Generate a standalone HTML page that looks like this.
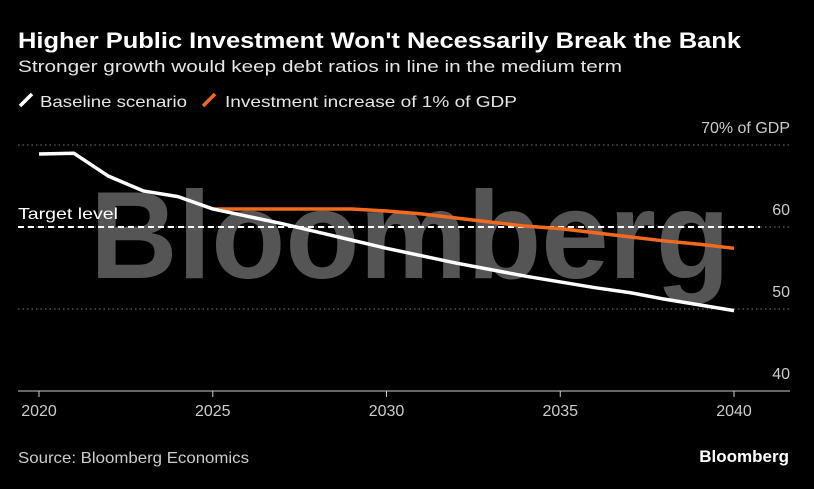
<!DOCTYPE html>
<html><head><meta charset="utf-8"><style>
body{margin:0;background:#000;width:814px;height:484px;overflow:hidden;font-family:"Liberation Sans",sans-serif;color:#fff}
</style></head><body>
<svg width="814" height="484">
<text x="18" y="48" font-size="22" font-weight="bold" fill="#fff" textLength="723" lengthAdjust="spacingAndGlyphs">Higher Public Investment Won't Necessarily Break the Bank</text>
<text x="18" y="72" font-size="17" fill="#e6e6e6" textLength="604" lengthAdjust="spacingAndGlyphs">Stronger growth would keep debt ratios in line in the medium term</text>
<g>
<line x1="20" y1="106" x2="32" y2="94" stroke="#fff" stroke-width="3.5"/>
<text x="40" y="107" font-size="16" fill="#e6e6e6" textLength="147" lengthAdjust="spacingAndGlyphs">Baseline scenario</text>
<line x1="203" y1="106" x2="215" y2="94" stroke="#f26b1d" stroke-width="3.5"/>
<text x="225" y="107" font-size="16" fill="#e6e6e6" textLength="292" lengthAdjust="spacingAndGlyphs">Investment increase of 1% of GDP</text>
</g>
<text x="410" y="278" font-size="124" font-weight="bold" fill="#555" text-anchor="middle" textLength="640" lengthAdjust="spacingAndGlyphs">Bloomberg</text>
<g id="grid"></g>
<g id="series"></g>
<text x="18" y="219" font-size="16" fill="#fff" textLength="100" lengthAdjust="spacingAndGlyphs">Target level</text>
<text x="18" y="463" font-size="16" fill="#ccc" textLength="231" lengthAdjust="spacingAndGlyphs">Source: Bloomberg Economics</text>
<text x="789" y="462" font-size="17" font-weight="bold" fill="#fff" text-anchor="end">Bloomberg</text>
</svg>
<script>
const years=[2020,2021,2022,2023,2024,2025,2026,2027,2028,2029,2030,2031,2032,2033,2034,2035,2036,2037,2038,2039,2040];
const baseline=[68.9,69.0,66.2,64.4,63.7,62.2,61.3,60.4,59.4,58.4,57.4,56.5,55.6,54.8,54.0,53.3,52.6,52.0,51.2,50.5,49.8];
const invYears=[2025,2026,2027,2028,2029,2030,2031,2032,2033,2034,2035,2036,2037,2038,2039,2040];
const investment=[62.2,62.2,62.2,62.2,62.2,61.95,61.6,61.1,60.6,60.1,59.8,59.3,58.8,58.3,57.9,57.4];
const yTicks=[70,60,50,40];
const yTickLabels=["70% of GDP","60","50","40"];
const xTicks=[2020,2025,2030,2035,2040];
const target=60;
const NS="http://www.w3.org/2000/svg";
const X=y=>39+(y-2020)*34.75;
const Y=v=>145+(70-v)*8.2;
function mk(tag,attrs,parent){const e=document.createElementNS(NS,tag);for(const k in attrs)e.setAttribute(k,attrs[k]);parent.appendChild(e);return e;}
const grid=document.getElementById('grid'),ser=document.getElementById('series');
yTicks.forEach((t,i)=>{
 if(t!==40){const l=mk('line',{x1:18,x2:790,y1:Y(t),y2:Y(t),stroke:'#777','stroke-width':1,'stroke-dasharray':'1.5 3'},grid);
 
 }
 const tx=mk('text',{x:790,y:Y(t)-12,'font-size':16,fill:'#ccc','text-anchor':'end'},grid);
 tx.textContent=yTickLabels[i];
 
 
});
const ax=mk('line',{x1:18,x2:790,y1:Y(40),y2:Y(40),stroke:'#ccc','stroke-width':1},grid);


xTicks.forEach(t=>{
 const tk=mk('line',{x1:X(t),x2:X(t),y1:Y(40),y2:Y(40)+6,stroke:'#ccc'},grid);
 
 
 const tx=mk('text',{x:X(t),y:Y(40)+25,'font-size':16,fill:'#ccc','text-anchor':'middle'},grid);
 tx.textContent=t;
 
 
});
const tl=mk('line',{x1:18,x2:760,y1:Y(target),y2:Y(target),stroke:'#fff','stroke-width':2,'stroke-dasharray':'6 4'},grid);


const p1=mk('polyline',{points:invYears.map((y,i)=>X(y)+','+Y(investment[i])).join(' '),fill:'none',stroke:'#f26b1d','stroke-width':3.5,'stroke-linejoin':'round'},ser);


const p2=mk('polyline',{points:years.map((y,i)=>X(y)+','+Y(baseline[i])).join(' '),fill:'none',stroke:'#fff','stroke-width':3.5,'stroke-linejoin':'round'},ser);


</script>
</body></html>
